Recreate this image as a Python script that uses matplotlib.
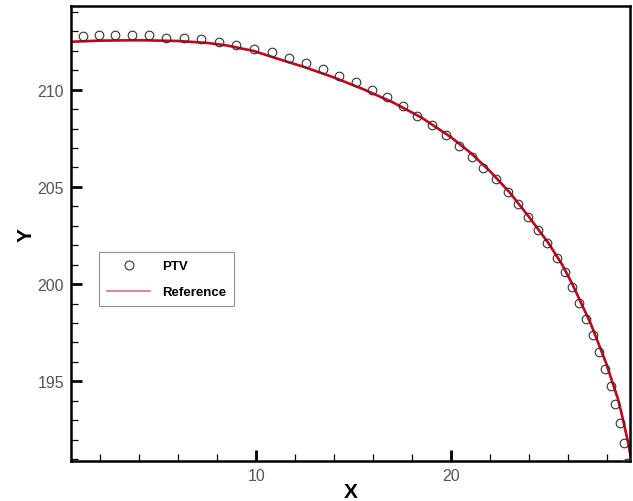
import matplotlib.pyplot as plt
from matplotlib.lines import Line2D
from matplotlib.ticker import MultipleLocator

# PTV measurements of the interface
ptv_x = [1.10, 1.94, 2.77, 3.64, 4.50, 5.39, 6.28, 7.18, 8.09, 8.99,
         9.88, 10.79, 11.69, 12.56, 13.41, 14.27, 15.12, 15.93, 16.71, 17.55,
         18.24, 19.00, 19.72, 20.42, 21.05, 21.66, 22.32, 22.92, 23.44, 23.95,
         24.46, 24.94, 25.41, 25.83, 26.21, 26.57, 26.93, 27.28, 27.59, 27.90,
         28.18, 28.43, 28.65, 28.86, 29.05]
ptv_y = [212.75, 212.80, 212.80, 212.80, 212.80, 212.68, 212.64, 212.58, 212.44, 212.29,
         212.10, 211.91, 211.63, 211.38, 211.08, 210.72, 210.40, 210.00, 209.62, 209.14,
         208.66, 208.18, 207.66, 207.11, 206.53, 205.98, 205.38, 204.76, 204.12, 203.47,
         202.78, 202.10, 201.34, 200.63, 199.83, 199.02, 198.21, 197.39, 196.51, 195.65,
         194.76, 193.81, 192.85, 191.84, 190.80]

# reference solution
ref_x = [0.5, 2.0, 4.0, 6.0, 7.5, 8.5, 9.9, 11.0, 12.5, 14.0,
         15.5, 17.0, 18.5, 20.0, 21.0, 22.0, 23.0, 24.0, 25.0, 25.7,
         26.22, 27.15, 27.93, 28.57, 28.82, 29.08, 29.3]
ref_y = [212.46, 212.52, 212.54, 212.50, 212.40, 212.27, 211.98, 211.62, 211.15, 210.62,
         210.02, 209.35, 208.55, 207.55, 206.75, 205.80, 204.72, 203.45, 202.10, 201.0,
         200.0, 198.0, 196.0, 194.07, 193.04, 191.86, 190.7]

plt.rcParams["font.family"] = ["Liberation Sans", "DejaVu Sans"]

fig = plt.figure(figsize=(6.33, 5.02), dpi=100)
ax = fig.add_axes([71 / 633, 40 / 502, 559 / 633, 455 / 502])

ax.plot(ref_x, ref_y, color="#c8001a", lw=1.9, zorder=2)
ax.plot(ptv_x, ptv_y, linestyle="none", marker="o", ms=6.2,
        mfc="none", mec="#333333", mew=0.8, zorder=3)

ax.set_xlim(0.5, 29.18)
ax.set_ylim(190.9, 214.3)

ax.xaxis.set_major_locator(MultipleLocator(10))
ax.xaxis.set_minor_locator(MultipleLocator(2))
ax.yaxis.set_major_locator(MultipleLocator(5))
ax.yaxis.set_minor_locator(MultipleLocator(1))

ax.tick_params(which="both", direction="in", top=False, right=False,
               labelsize=11.5, labelcolor="#555555", pad=5)
ax.tick_params(which="major", length=8, width=2)
ax.tick_params(which="minor", length=5, width=0.9)
for spine in ax.spines.values():
    spine.set_linewidth(1.8)

ax.set_xlabel("X", fontsize=15, fontweight="bold")
ax.set_ylabel("Y", fontsize=15, fontweight="bold")
ax.xaxis.set_label_coords(0.5, -0.046)
ax.yaxis.set_label_coords(-0.063, 0.5)

handles = [
    Line2D([], [], linestyle="none", marker="o", ms=6.4, mfc="none",
           mec="#333333", mew=0.8),
    Line2D([], [], color="#c87880", lw=1.2),
]
leg = ax.legend(handles, ["PTV", "Reference"], loc="upper left",
                bbox_to_anchor=(0.05, 0.459), borderaxespad=0,
                prop={"size": 9.5, "weight": "bold"}, frameon=True,
                fancybox=False, edgecolor="#777777", handlelength=3.3,
                handletextpad=0.9, labelspacing=1.05, borderpad=0.6)
leg.get_frame().set_linewidth(0.8)

fig.savefig("out.png", dpi=100)
